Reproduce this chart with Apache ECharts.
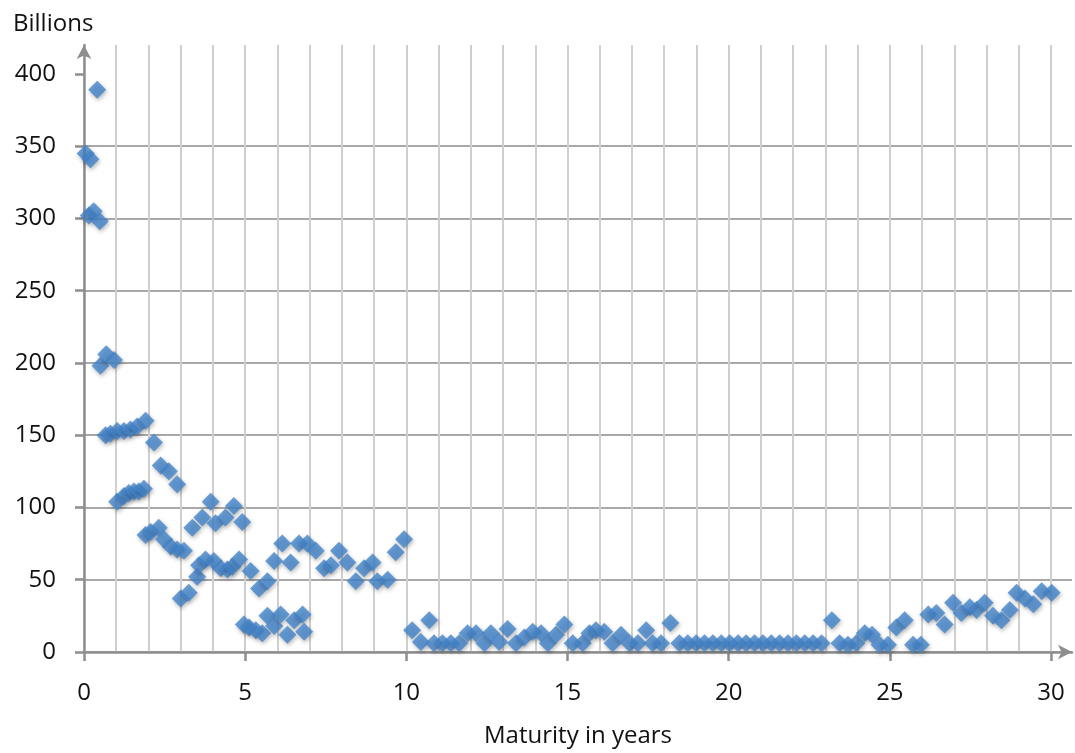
<!DOCTYPE html>
<html>
<head>
<meta charset="utf-8">
<script src="https://cdn.jsdelivr.net/npm/echarts@6/dist/echarts.min.js"></script>
<style>
  html, body { margin: 0; padding: 0; background: #fff; }
  #container { width: 1075px; height: 753px; }
</style>
</head>
<body>
<div id="container"></div>
<script>
// maturity (years) and outstanding amount (billions)
var maturities = [
  0.05, 0.15, 0.2, 0.3, 0.41, 0.49, 0.51, 0.67, 0.69, 0.82, 0.93,
  1.03, 1.03, 1.24, 1.24, 1.39, 1.44, 1.55, 1.65, 1.7, 1.86, 1.91, 1.91,
  2.07, 2.17, 2.32, 2.38, 2.48, 2.63, 2.69, 2.89, 2.89,
  3.0, 3.1, 3.25, 3.36, 3.51, 3.57, 3.67, 3.77, 3.93,
  4.03, 4.08, 4.24, 4.39, 4.45, 4.6, 4.65, 4.81, 4.91, 4.96,
  5.17, 5.12, 5.33, 5.43, 5.53, 5.69, 5.69, 5.9, 5.9,
  6.1, 6.15, 6.31, 6.41, 6.52, 6.67, 6.78, 6.83, 6.93,
  7.19, 7.45, 7.66, 7.91, 8.17, 8.43, 8.69, 8.95, 9.1, 9.42, 9.67, 9.93,
  10.18, 10.45, 10.71, 10.86, 11.12, 11.38, 11.64, 11.9, 12.16, 12.42, 12.62, 12.88,
  13.14, 13.4, 13.66, 13.92, 14.18, 14.39, 14.64, 14.9,
  15.16, 15.47, 15.68, 15.88, 16.14, 16.4, 16.66, 16.92, 17.18, 17.44, 17.64, 17.9,
  18.19, 18.47, 18.73, 18.99, 19.25, 19.51, 19.77, 20.03, 20.29, 20.54, 20.8,
  21.06, 21.32, 21.58, 21.84, 22.1, 22.36, 22.62, 22.88,
  23.2, 23.44, 23.7, 23.96, 24.22, 24.45, 24.68, 24.94,
  25.2, 25.46, 25.72, 25.96, 26.19, 26.44, 26.7, 26.96, 27.22, 27.48, 27.69, 27.94,
  28.2, 28.46, 28.72, 28.93, 29.19, 29.45, 29.71, 30.02
];
var billions = [
  345, 302, 341, 305, 389, 298, 198, 150, 206, 151, 202,
  153, 104, 153, 108, 110, 154, 111, 156, 111, 113, 160, 81,
  83, 145, 86, 129, 78, 125, 73, 116, 71,
  37, 70, 41, 86, 52, 60, 93, 64, 104,
  63, 89, 58, 93, 57, 59, 101, 64, 90, 19,
  56, 17, 15, 44, 13, 49, 25, 63, 18,
  26, 75, 12, 62, 22, 75, 26, 14, 75,
  70, 58, 60, 70, 62, 49, 58, 62, 49, 50, 69, 78,
  15, 7, 22, 6, 6, 6, 6, 13, 13, 6, 13, 7,
  16, 6, 10, 14, 13, 6, 12, 19,
  6, 6, 13, 15, 14, 6, 12, 6, 6, 15, 6, 6,
  20, 6, 6, 6, 6, 6, 6, 6, 6, 6, 6,
  6, 6, 6, 6, 6, 6, 6, 6,
  22, 6, 5, 6, 13, 12, 5, 5,
  17, 22, 5, 5, 26, 27, 19, 34, 27, 31, 29, 34,
  25, 22, 29, 41, 37, 33, 42, 41
];
var xTicks = [0, 5, 10, 15, 20, 25, 30];
var yTicks = [0, 50, 100, 150, 200, 250, 300, 350, 400];

var dom = document.querySelector("#container");
var myChart = echarts.init(dom);

var points = [];
for (var i = 0; i < maturities.length; i++) {
    points.push([maturities[i], billions[i]]);
}

var font = "'Open Sans', sans-serif";
var axisGray = '#8e8e8e';

var option = {
    animation: false,
    title: {
        text: 'Billions',
        left: 8,
        top: 7,
        textStyle: { fontFamily: font, fontSize: 24, fontWeight: 'normal', color: '#111' }
    },
    grid: { left: 84, right: 3, top: 45, bottom: 101 },
    xAxis: [{
        type: 'value',
        position: 'bottom',
        min: 0,
        max: 30.65,
        interval: 1,
        axisLine: {
            lineStyle: { color: axisGray, width: 2.5 },
            symbol: ['none', 'arrow'],
            symbolSize: [11, 14]
        },
        axisTick: { show: false },
        axisLabel: { show: false },
        splitLine: {
            show: true,
            showMaxLine: false,
            lineStyle: { color: '#cfcfcf', width: 2 }
        }
    }, {
        type: 'value',
        position: 'bottom',
        min: 0,
        max: 30.65,
        interval: 5,
        name: 'Maturity in years',
        nameLocation: 'middle',
        nameGap: 72,
        nameTextStyle: { fontFamily: font, fontSize: 24, color: '#111' },
        axisLine: { show: false },
        axisTick: {
            show: true,
            customValues: xTicks,
            length: 9,
            lineStyle: { color: axisGray, width: 2.5 }
        },
        axisLabel: {
            customValues: xTicks,
            margin: 29,
            fontFamily: font,
            fontSize: 24,
            color: '#111'
        },
        splitLine: { show: false }
    }],
    yAxis: {
        type: 'value',
        min: 0,
        max: 420,
        interval: 50,
        axisLine: {
            show: true,
            lineStyle: { color: axisGray, width: 2.5 },
            symbol: ['none', 'arrow'],
            symbolSize: [11, 14]
        },
        axisTick: {
            show: true,
            customValues: yTicks,
            length: 9,
            lineStyle: { color: axisGray, width: 2.5 }
        },
        axisLabel: {
            customValues: yTicks,
            margin: 28,
            fontFamily: font,
            fontSize: 24,
            color: '#111'
        },
        splitLine: {
            show: true,
            showMaxLine: false,
            lineStyle: { color: '#a8a8a8', width: 2 }
        }
    },
    series: [{
        type: 'scatter',
        xAxisIndex: 0,
        data: points,
        symbol: 'diamond',
        symbolSize: [18, 18],
        itemStyle: {
            color: '#4484cb',
            shadowBlur: 4,
            shadowColor: 'rgba(0,0,0,0.35)',
            shadowOffsetX: 1,
            shadowOffsetY: 2
        }
    }]
};

myChart.setOption(option);
</script>
</body>
</html>
